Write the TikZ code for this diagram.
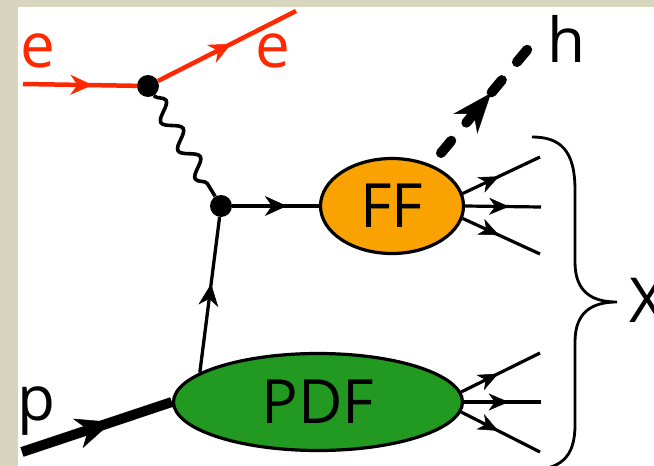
\documentclass[tikz,border=0pt]{standalone}
\usepackage{fontspec}
\setmainfont{Open Sans}
\usetikzlibrary{arrows.meta,decorations.markings,decorations.pathmorphing,shapes.geometric}

\definecolor{lepton}{RGB}{255,40,0}
\definecolor{ffcol}{RGB}{250,163,0}
\definecolor{pdfcol}{RGB}{34,154,34}
\definecolor{paper}{RGB}{216,213,191}

\tikzset{
  % arrow head placed part way along a line
  midarrow/.style 2 args={postaction={decorate},
    decoration={markings,mark=at position #1 with {\arrow{#2}}}},
  small tip/.tip={Stealth[length=22pt,width=20pt,inset=7pt,line width=0.5pt]},
  out tip/.tip={Stealth[length=20pt,width=17pt,inset=6pt,line width=0.5pt]},
  big tip/.tip={Stealth[length=36pt,width=31pt,inset=11pt,line width=0.5pt]},
  h tip/.tip={Stealth[length=40pt,width=31pt,inset=13pt,line width=0.5pt]},
  vtx/.style={circle,fill=black,inner sep=0pt,minimum size=22pt},
  blob/.style={ellipse,draw=black,line width=3.2pt,inner sep=0pt,
    font=\fontsize{61}{64}\selectfont},
  lab/.style={inner sep=0pt,anchor=base west,font=\fontsize{62}{64}\selectfont},
  leptonline/.style={draw=lepton,line width=4.5pt},
  quark/.style={draw=black,line width=3.3pt},
  outline/.style={draw=black,line width=3.2pt},
  photon/.style={draw=black,line width=3.6pt,
    decorate,decoration={snake,segment length=33pt,amplitude=8pt}},
  proton/.style={draw=black,line width=10pt},
  hadron/.style={draw=black,line width=10pt,line cap=round,
    dash pattern=on 16pt off 23.5pt},
  bracestyle/.style={draw=black,line width=2.8pt},
}

\begin{document}
\begin{tikzpicture}[x=1pt,y=-1pt]
  % paper frame
  \path[fill=paper] (0,0) rectangle (654,466);
  \path[fill=white] (18,7) rectangle (654,466);
  \useasboundingbox (0,0) rectangle (654,466);

  % vertices and blobs
  \node[vtx] (v1) at (148,86) {};
  \node[vtx] (v2) at (221,206) {};
  \node[blob,fill=ffcol,minimum width=143pt,minimum height=95pt] (ff) at (392,206) {FF};
  \node[blob,fill=pdfcol,minimum width=289pt,minimum height=97pt] (pdf) at (318,402) {PDF};

  % free ends
  \coordinate (ein)  at (23,84);
  \coordinate (eout) at (296,11);
  \coordinate (pin)  at (22,452);
  \coordinate (hs)   at (441,153);
  \coordinate (hend) at (532,44);
  \coordinate (f1) at (540,157);
  \coordinate (f2) at (541,207);
  \coordinate (f3) at (540,254);
  \coordinate (p1) at (540,353);
  \coordinate (p2) at (541,402);
  \coordinate (p3) at (540,452);

  % electron lines
  \draw[leptonline,midarrow={0.61}{small tip}] (ein) -- (v1);
  \draw[leptonline,midarrow={0.53}{small tip}] (v1) -- (eout);

  % exchanged photon
  \draw[photon] (v1) -- (v2);

  % struck quark
  \draw[quark,midarrow={0.57}{small tip}] (pdf.166) -- (v2);
  \draw[quark,midarrow={0.63}{small tip}] (v2) -- (ff);

  % incoming proton
  \draw[proton,midarrow={0.6}{big tip}] (pin) -- (pdf.west);

  % observed hadron
  \draw[hadron,midarrow={0.55}{h tip}] (hs) -- (hend);

  % remnants
  \draw[outline,midarrow={0.47}{out tip}] (ff.10) -- (f1);
  \draw[outline,midarrow={0.58}{out tip}] (ff.east) -- (f2);
  \draw[outline,midarrow={0.47}{out tip}] (ff.-10) -- (f3);
  \draw[outline,midarrow={0.47}{out tip}] (pdf.4) -- (p1);
  \draw[outline,midarrow={0.58}{out tip}] (pdf.east) -- (p2);
  \draw[outline,midarrow={0.47}{out tip}] (pdf.-4) -- (p3);

  % brace collecting the remnants
  \draw[bracestyle] (532,137) .. controls (560,137) and (575,150) .. (575,190)
    -- (575,262) .. controls (575,292) and (592,302) .. (617,302)
    .. controls (592,302) and (575,312) .. (575,342)
    -- (575,425) .. controls (575,458) and (560,470) .. (528,470);

  % labels
  \node[lab,text=lepton] (le1) at (20,67) {e};
  \node[lab,text=lepton] (le2) at (255,67) {e};
  \node[lab] (lh) at (547,62) {h};
  \node[lab] (lp) at (17,420) {p};
  \node[lab] (lx) at (629,322) {X};
\end{tikzpicture}
\end{document}
